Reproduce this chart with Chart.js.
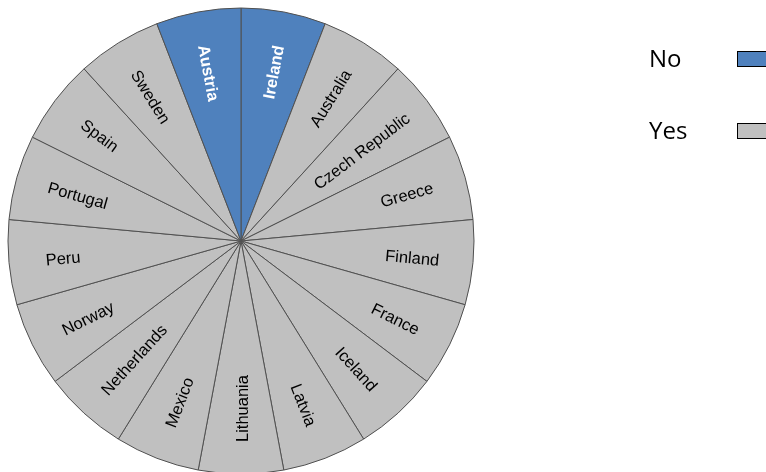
<!DOCTYPE html>
<html lang="en">
<head>
  <meta charset="UTF-8" />
  <title>Countries – No / Yes</title>
  <script src="https://cdn.jsdelivr.net/npm/chart.js"></script>
  <style>
    html, body { margin: 0; padding: 0; background: #fff; }
    #wrap { position: relative; width: 766px; height: 472px; }
  </style>
</head>
<body>
<div id="wrap"><canvas id="pieChart" width="766" height="472"></canvas></div>

<script>
  // slices, clockwise from 12 o'clock
  const countries = ['Ireland', 'Australia', 'Czech Republic', 'Greece', 'Finland', 'France',
    'Iceland', 'Latvia', 'Lithuania', 'Mexico', 'Netherlands', 'Norway', 'Peru',
    'Portugal', 'Spain', 'Sweden', 'Austria'];
  const answers = ['No', 'Yes', 'Yes', 'Yes', 'Yes', 'Yes', 'Yes', 'Yes', 'Yes', 'Yes',
    'Yes', 'Yes', 'Yes', 'Yes', 'Yes', 'Yes', 'No'];
  const sliceValues = countries.map(() => 1); // every country gets an equal slice
  const legendLabels = ['No', 'Yes'];

  const colorFor = { No: '#4f81bd', Yes: '#c0c0c0' };

  // country names drawn along the radius of each slice, near the rim
  const sliceLabels = {
    id: 'sliceLabels',
    afterDatasetsDraw(chart) {
      const ctx = chart.ctx;
      const arcs = chart.getDatasetMeta(0).data;
      ctx.save();
      ctx.textBaseline = 'middle';
      arcs.forEach((arc, i) => {
        const mid = (arc.startAngle + arc.endAngle) / 2;
        const isNo = answers[i] === 'No';
        ctx.font = (isNo ? 'bold ' : '') + '16.5px "Liberation Sans", Arial, sans-serif';
        const w = ctx.measureText(countries[i]).width;
        // longer names reach a little closer to the rim
        const rOut = arc.outerRadius - 42 + 0.15 * w;
        const x = arc.x + Math.cos(mid) * rOut;
        const y = arc.y + Math.sin(mid) * rOut;
        ctx.fillStyle = isNo ? '#ffffff' : '#000000';
        ctx.save();
        ctx.translate(x, y);
        if (Math.cos(mid) > 1e-6) {
          ctx.rotate(mid);
          ctx.textAlign = 'right';
        } else {
          ctx.rotate(mid + Math.PI);
          ctx.textAlign = 'left';
        }
        ctx.fillText(countries[i], 0, 2);
        ctx.restore();
      });
      ctx.restore();
    }
  };

  // legend on the right: label then swatch
  const sideLegend = {
    id: 'sideLegend',
    afterDraw(chart) {
      const ctx = chart.ctx;
      ctx.save();
      ctx.font = '24px "Open Sans", sans-serif';
      ctx.textBaseline = 'alphabetic';
      ctx.textAlign = 'left';
      legendLabels.forEach((lab, i) => {
        const yBase = 67 + i * 72;
        ctx.fillStyle = '#000';
        ctx.fillText(lab, 649, yBase);
        ctx.fillStyle = colorFor[lab];
        ctx.fillRect(737.5, yBase - 15.5, 40, 15);
        ctx.strokeStyle = '#000';
        ctx.lineWidth = 1;
        ctx.strokeRect(737.5, yBase - 15.5, 40, 15);
      });
      ctx.restore();
    }
  };

  new Chart(document.getElementById('pieChart'), {
    type: 'pie',
    data: {
      labels: countries,
      datasets: [{
        data: sliceValues,
        backgroundColor: answers.map(a => colorFor[a]),
        borderColor: '#505050',
        borderWidth: 1,
        clip: false
      }]
    },
    options: {
      responsive: false,
      animation: false,
      radius: 233,
      layout: { padding: { left: 0, right: 284, top: 10, bottom: 0 } },
      plugins: {
        legend: { display: false },
        tooltip: { enabled: false }
      }
    },
    plugins: [sliceLabels, sideLegend]
  });
</script>
</body>
</html>
